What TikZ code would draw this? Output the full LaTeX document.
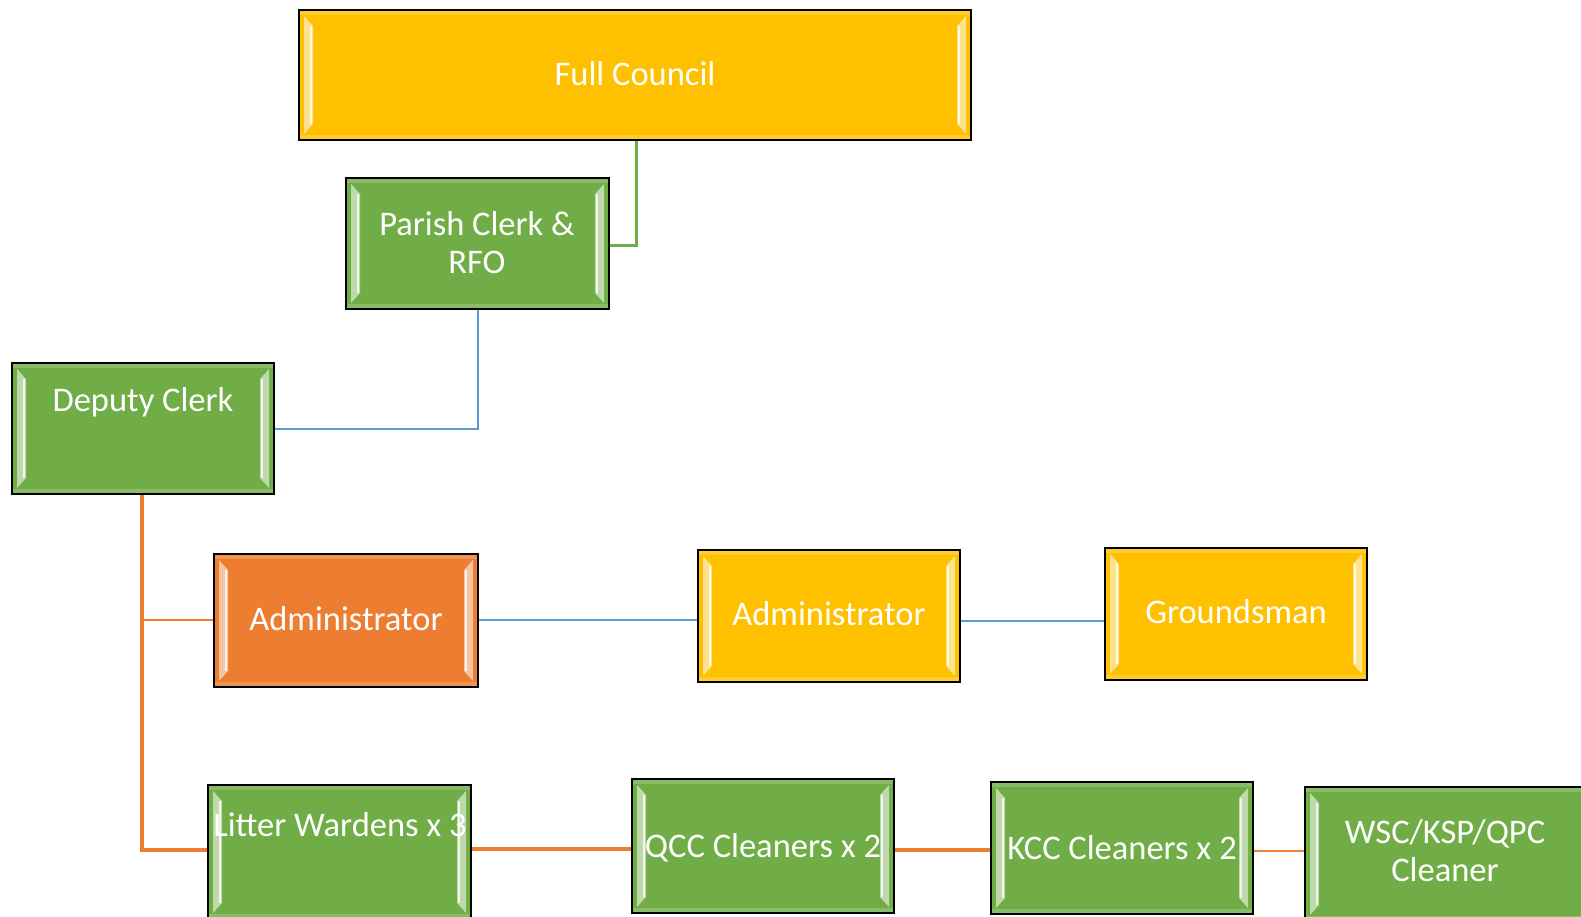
\documentclass[tikz,border=0pt]{standalone}
\usepackage{fontspec}
\setmainfont{Carlito}
\usetikzlibrary{calc}
\definecolor{cyel}{HTML}{FFC000}
\definecolor{cgrn}{HTML}{70AD47}
\definecolor{corg}{HTML}{ED7D31}
\definecolor{cblu}{HTML}{5B9BD5}
\tikzset{
  box/.style={draw=black, line width=2pt, inner sep=0pt, minimum width=#1, minimum height=131pt,
    path picture={
      \fill[white, fill opacity=0.55]
        ($(path picture bounding box.north west)+(5,6)$) -- ($(path picture bounding box.north west)+(14,16)$) --
        ($(path picture bounding box.south west)+(14,-16)$) -- ($(path picture bounding box.south west)+(5,-6)$) -- cycle;
      \fill[white, fill opacity=0.55]
        ($(path picture bounding box.north east)+(-5,6)$) -- ($(path picture bounding box.north east)+(-14,16)$) --
        ($(path picture bounding box.south east)+(-14,-16)$) -- ($(path picture bounding box.south east)+(-5,-6)$) -- cycle;
      \draw[white, line width=1.5pt, opacity=0.8]
        ($(path picture bounding box.north west)+(12,16)$) -- ($(path picture bounding box.south west)+(12,-16)$);
      \draw[white, line width=1.5pt, opacity=0.8]
        ($(path picture bounding box.north east)+(-12,16)$) -- ($(path picture bounding box.south east)+(-12,-16)$);
      \draw[white, line width=4pt, opacity=0.18]
        ($(path picture bounding box.north west)+(0,3)$) -- ($(path picture bounding box.north east)+(0,3)$);
      \draw[white, line width=4pt, opacity=0.18]
        ($(path picture bounding box.south west)+(0,-3)$) -- ($(path picture bounding box.south east)+(0,-3)$);
    }},
  txt/.style={text=white, font=\fontsize{34.5}{38}\selectfont, align=center, inner sep=0pt},
  gline/.style={draw=cgrn, line width=3pt},
  bline/.style={draw=cblu, line width=2.5pt},
  bthin/.style={draw=cblu, line width=1.5pt},
  othick/.style={draw=corg, line width=4.5pt},
  othin/.style={draw=corg, line width=2pt},
}
\begin{document}
\begin{tikzpicture}[x=1pt,y=-1pt]
\useasboundingbox (0,0) rectangle (1581,916);
\clip (0,0) rectangle (1581,916);
% boxes
\node[box=672pt, fill=cyel, minimum height=130pt] (fc) at (635,75) {};
\node[box=263pt, fill=cgrn] (pc) at (477.5,243.5) {};
\node[box=262pt, fill=cgrn] (dc) at (143,428.5) {};
\node[box=264pt, fill=corg, minimum height=133pt] (ad1) at (346,620.5) {};
\node[box=262pt, fill=cyel, minimum height=132pt] (ad2) at (829,616) {};
\node[box=262pt, fill=cyel, minimum height=132pt] (gm) at (1236,614) {};
\node[box=263pt, fill=cgrn, minimum height=134pt] (lw) at (339.5,852) {};
\node[box=262pt, fill=cgrn, minimum height=134pt] (qcc) at (763,846) {};
\node[box=262pt, fill=cgrn, minimum height=132pt] (kcc) at (1122,848) {};
\node[box=290pt, fill=cgrn, minimum height=134pt] (wsc) at (1450,854) {};
% texts
\node[txt] (tfc) at (635,74) {Full Council};
\node[txt] (tpc) at (477,243) {Parish Clerk \&\\RFO};
\node[txt] (tdc) at (143,402) {Deputy Clerk};
\node[txt] (tad1) at (346,619) {Administrator};
\node[txt] (tad2) at (829,614) {Administrator};
\node[txt] (tgm) at (1236,612) {Groundsman};
\node[txt] (tlw) at (340,825) {Litter Wardens x 3};
\node[txt] (tqcc) at (763,848) {QCC Cleaners x 2};
\node[txt] (tkcc) at (1122,848) {KCC Cleaners x 2};
\node[txt] (twsc) at (1445,851) {WSC/KSP/QPC\\Cleaner};
% connectors
\coordinate (g1) at (636,245);
\draw[gline] (fc.south -| g1) -- (g1) -- (g1 -| pc.east);
\coordinate (b1) at (478,429);
\draw[bline] (pc.south -| b1) -- (b1) -- (b1 -| dc.east);
\coordinate (o1) at (142,850);
\coordinate (o2) at (142,620);
\draw[othick, line join=miter] (dc.south -| o1) -- (o1) -- (o1 -| lw.west);
\draw[othin] (o2) -- (o2 -| ad1.west);
\coordinate (b2) at (0,620);
\draw[bthin] (b2 -| ad1.east) -- (b2 -| ad2.west);
\coordinate (b3) at (0,621);
\draw[bthin] (b3 -| ad2.east) -- (b3 -| gm.west);
\coordinate (o3) at (0,849);
\draw[othick] (o3 -| lw.east) -- (o3 -| qcc.west);
\coordinate (o4) at (0,850);
\draw[othick] (o4 -| qcc.east) -- (o4 -| kcc.west);
\coordinate (o5) at (0,851);
\draw[othin] (o5 -| kcc.east) -- (o5 -| wsc.west);
\end{tikzpicture}
\end{document}
